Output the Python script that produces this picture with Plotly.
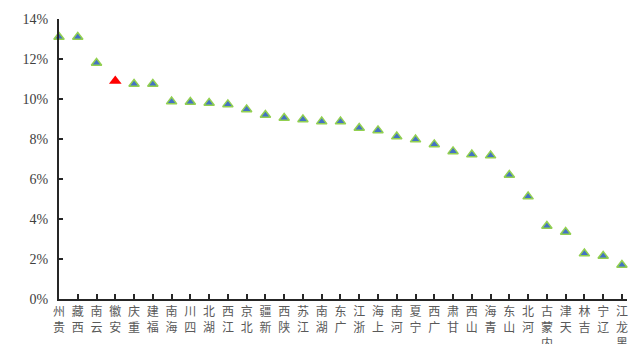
import plotly.graph_objects as go

# Provinces, ordered from highest to lowest value
provinces = ["贵州", "西藏", "云南", "安徽", "重庆", "福建", "海南", "四川", "湖北", "江西",
             "北京", "新疆", "陕西", "江苏", "湖南", "广东", "浙江", "上海", "河南", "宁夏",
             "广西", "甘肃", "山西", "青海", "山东", "河北", "内蒙古", "天津", "吉林", "辽宁", "黑龙江"]
values = [13.1, 13.1, 11.8, 10.9, 10.75, 10.75, 9.87, 9.85, 9.8, 9.73,
          9.48, 9.2, 9.05, 8.98, 8.87, 8.87, 8.55, 8.43, 8.12, 7.97,
          7.73, 7.38, 7.22, 7.17, 6.2, 5.12, 3.65, 3.35, 2.27, 2.15, 1.7]
highlight = "安徽"
y_ticks = [0, 2, 4, 6, 8, 10, 12, 14]
y_tick_labels = ["0%", "2%", "4%", "6%", "8%", "10%", "12%", "14%"]

idx = list(range(len(provinces)))
normal_x = [i for i, p in zip(idx, provinces) if p != highlight]
normal_y = [v for v, p in zip(values, provinces) if p != highlight]
hi_x = [i for i, p in zip(idx, provinces) if p == highlight]
hi_y = [v for v, p in zip(values, provinces) if p == highlight]

# vertical labels: characters stacked, reading upward toward the axis
tick_text = ["<br>".join(reversed(p)) for p in provinces]

fig = go.Figure()
fig.add_trace(go.Scatter(
    x=normal_x, y=normal_y, mode="markers", cliponaxis=False,
    marker=dict(symbol="triangle-up", size=9, color="#4472C4",
                line=dict(color="#92D050", width=1.5)),
    showlegend=False, hoverinfo="skip"))
fig.add_trace(go.Scatter(
    x=hi_x, y=hi_y, mode="markers", cliponaxis=False,
    marker=dict(symbol="triangle-up", size=11, color="#FF0000",
                line=dict(width=0)),
    showlegend=False, hoverinfo="skip"))

fig.update_layout(
    width=629, height=344,
    margin=dict(l=59, r=2, t=19, b=45, autoexpand=False),
    paper_bgcolor="white", plot_bgcolor="white",
    font=dict(family="Liberation Serif, Noto Sans CJK SC", size=13, color="#404040"),
)
fig.update_xaxes(
    range=[0, 30.27], tickmode="array", tickvals=idx, ticktext=tick_text,
    tickangle=0, showgrid=False, zeroline=False, automargin=False,
    showline=True, linecolor="#262626", linewidth=2,
    ticks="inside", ticklen=5, tickcolor="#262626", tickwidth=1.5,
    tickfont=dict(family="Noto Sans CJK SC", size=12, color="#595959"),
    ticklabelstandoff=1,
)
fig.update_yaxes(
    range=[0, 14], tickmode="array", tickvals=y_ticks, ticktext=y_tick_labels,
    showgrid=False, zeroline=False, automargin=False,
    showline=True, linecolor="#262626", linewidth=2,
    ticks="inside", ticklen=4, tickcolor="#262626", tickwidth=1.5,
    tickfont=dict(family="Liberation Serif", size=14, color="#404040"),
    ticklabelstandoff=6,
)

fig.write_html("out.html")
